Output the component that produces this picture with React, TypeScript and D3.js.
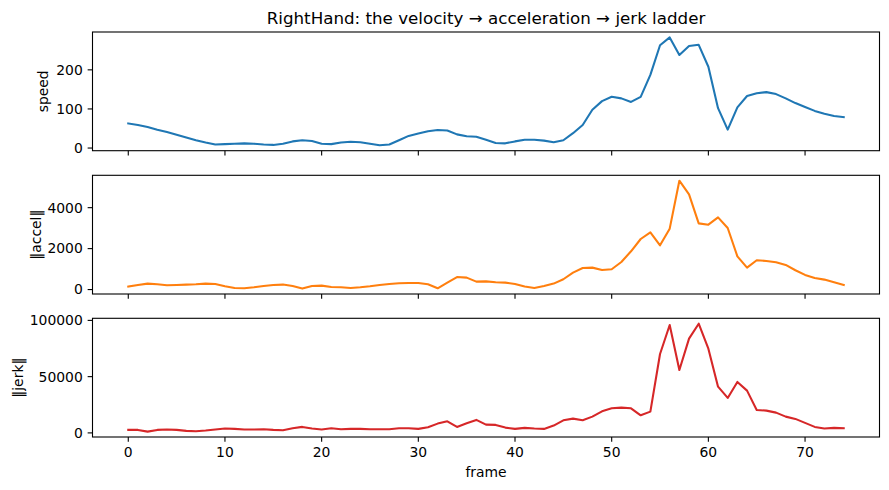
import * as d3 from "d3";

const frames = d3.range(0, 75);

const speed = [
  63, 59, 54, 47, 41, 34, 27, 20, 14, 9, 10, 11, 12, 11, 9, 8, 11, 17, 20, 18,
  11, 10, 14, 16, 15, 11, 7, 9, 20, 31, 37, 43, 46, 45, 35, 30, 29, 21, 13, 12,
  17, 21, 21, 19, 15, 20, 38, 59, 98, 120, 131, 127, 118, 131, 187, 263, 283, 238, 261, 264,
  208, 102, 47, 104, 133, 140, 143, 138, 127, 115, 105, 95, 88, 82, 79,
];

const accel = [
  146, 225, 290, 258, 210, 225, 243, 258, 290, 275, 161, 80, 63, 112, 177, 225, 243, 177, 47, 177,
  193, 128, 112, 80, 112, 161, 225, 275, 307, 324, 324, 258, 63, 340, 610, 584, 389, 400, 356, 340,
  275, 146, 80, 177, 292, 503, 828, 1056, 1072, 958, 991, 1348, 1869, 2470, 2795, 2160, 2975, 5317, 4650, 3234,
  3170, 3527, 3006, 1624, 1072, 1430, 1397, 1332, 1202, 942, 715, 568, 486, 356, 225,
];

const jerk = [
  2660, 2660, 1150, 2660, 2960, 2660, 1770, 1450, 2060, 2960, 3850, 3560, 2960, 2960, 3260, 2660, 2360, 4150, 5330, 3850,
  2960, 4150, 3260, 3560, 3560, 3260, 3260, 3260, 4150, 4150, 3560, 4970, 8260, 10300, 5330, 8550, 11540, 7370, 7100, 4700,
  3550, 4440, 3850, 3560, 6480, 11190, 12700, 11250, 14470, 19200, 21850, 22470, 21850, 15630, 18900, 70150, 95900, 55940, 83740, 97060,
  74860, 41110, 31080, 45290, 37560, 20420, 19800, 18030, 14470, 12430, 8880, 5330, 3850, 4440, 4150,
];

const xTicks = [0, 10, 20, 30, 40, 50, 60, 70];
const speedTicks = [0, 100, 200];
const accelTicks = [0, 2000, 4000];
const jerkTicks = [0, 50000, 100000];

const panels = [
  { label: "speed", values: speed, ticks: speedTicks, color: "#1f77b4", labelX: 43 },
  { label: "\u2016accel\u2016", values: accel, ticks: accelTicks, color: "#ff7f0e", labelX: 36 },
  { label: "\u2016jerk\u2016", values: jerk, ticks: jerkTicks, color: "#d62728", labelX: 18.5 },
];

const width = 889;
const height = 490;
const left = 92.5;
const right = 879.5;
const panelTops = [32, 175.3, 318.3];
const panelHeight = 118.7;
const font = "DejaVu Sans, sans-serif";
const tickLen = 4.86;

function padded(lo: number, hi: number): [number, number] {
  const span = hi - lo;
  return [lo - span * 0.05, hi + span * 0.05];
}

export default function App() {
  const x = d3.scaleLinear().domain(padded(0, 74)).range([left, right]);

  return (
    <svg
      width={width}
      height={height}
      viewBox={`0 0 ${width} ${height}`}
      style={{ position: "absolute", left: 0, top: 0, background: "#fff" }}
      fontFamily={font}
    >
      <text x={(left + right) / 2} y={24} textAnchor="middle" fontSize={16.7} fill="#000">
        RightHand: the velocity → acceleration → jerk ladder
      </text>

      {panels.map((panel, index) => {
        const top = panelTops[index];
        const bottom = top + panelHeight;
        const [lo, hi] = d3.extent(panel.values) as [number, number];
        const y = d3.scaleLinear().domain(padded(lo, hi)).range([bottom, top]);
        const line = d3
          .line<number>()
          .x((_, i) => x(frames[i]))
          .y((v) => y(v));
        const isLast = index === panels.length - 1;

        return (
          <g key={panel.label}>
            <path d={line(panel.values) ?? ""} fill="none" stroke={panel.color} strokeWidth={2.08} strokeLinejoin="round" strokeLinecap="square" />

            {panel.ticks.map((tick) => (
              <g key={tick}>
                <line x1={left - tickLen} x2={left} y1={y(tick)} y2={y(tick)} stroke="#000" strokeWidth={1.1} />
                <text x={left - 9.7} y={y(tick)} dy="0.35em" textAnchor="end" fontSize={13.9} fill="#000">
                  {tick}
                </text>
              </g>
            ))}

            {xTicks.map((tick) => (
              <g key={tick}>
                <line x1={x(tick)} x2={x(tick)} y1={bottom} y2={bottom + tickLen} stroke="#000" strokeWidth={1.1} />
                {isLast ? (
                  <text x={x(tick)} y={bottom + 9.7} dy="0.76em" textAnchor="middle" fontSize={13.9} fill="#000">
                    {tick}
                  </text>
                ) : null}
              </g>
            ))}

            <rect x={left} y={top} width={right - left} height={panelHeight} fill="none" stroke="#000" strokeWidth={1.1} />

            <text
              transform={`translate(${panel.labelX}, ${(top + bottom) / 2}) rotate(-90)`}
              textAnchor="middle"
              dy="0.35em"
              fontSize={13.9}
              fill="#000"
            >
              {panel.label}
            </text>
          </g>
        );
      })}

      <text x={(left + right) / 2} y={472} dy="0.35em" textAnchor="middle" fontSize={13.9} fill="#000">
        frame
      </text>
    </svg>
  );
}
